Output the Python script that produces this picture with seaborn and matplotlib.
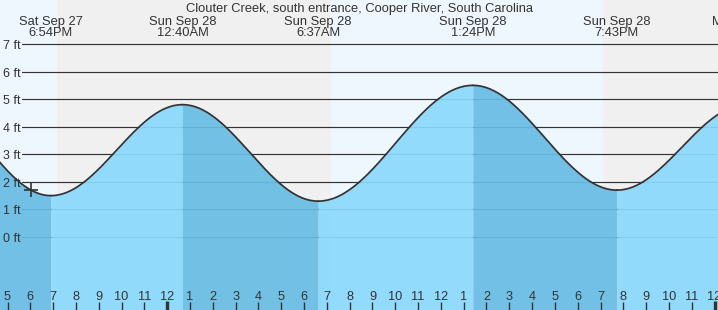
import numpy as np
import pandas as pd
import matplotlib
matplotlib.use("Agg")
import matplotlib.pyplot as plt
import seaborn as sns
from matplotlib.transforms import blended_transform_factory

# ---- data (hours relative to Sun Sep 28 00:00) ----
event_hours = [-11.3, -5.1, 0.667, 6.617, 13.4, 19.717, 25.4]
event_heights = [5.7, 1.5, 4.8, 1.3, 5.5, 1.7, 4.8]
event_days = ["", "Sat Sep 27", "Sun Sep 28", "Sun Sep 28", "Sun Sep 28", "Sun Sep 28", "Mon Sep 29"]
event_times = ["", "6:54PM", "12:40AM", "6:37AM", "1:24PM", "7:43PM", "1:24AM"]

sun_hours = [-4.83, 7.18, 19.1]          # sunset, sunrise, sunset
now_hour, now_height = -5.98, 1.71

ft_ticks = [0, 1, 2, 3, 4, 5, 6, 7]
ft_labels = ["0 ft", "1 ft", "2 ft", "3 ft", "4 ft", "5 ft", "6 ft", "7 ft"]

hour_ticks = list(range(-7, 25))
hour_labels = ["5", "6", "7", "8", "9", "10", "11", "12",
               "1", "2", "3", "4", "5", "6", "7", "8", "9", "10", "11", "12",
               "1", "2", "3", "4", "5", "6", "7", "8", "9", "10", "11", "12"]
midnights = [0, 24]

title = "Clouter Creek, south entrance, Cooper River, South Carolina"

# ---- styling ----
sns.set_theme(style="white")
plt.rcParams["font.family"] = ["Liberation Sans", "DejaVu Sans"]

XMIN, XMAX = -7.33, 24.15
YMIN, YMAX = -2.648, 8.596
DAY_BG = "#EEF6FE"
NIGHT_BG = "#F0F0F0"
LIGHT_WATER = "#8AD9FD"
DARK_WATER = "#67BCE4"
INK = "#333333"

fig = plt.figure(figsize=(7.18, 3.10), dpi=100)
ax = fig.add_axes([0, 0, 1, 1])

# day / night background
bounds = [XMIN] + sun_hours + [XMAX]
for i in range(len(bounds) - 1):
    ax.axvspan(bounds[i], bounds[i + 1], color=DAY_BG if i % 2 == 0 else NIGHT_BG,
               lw=0, zorder=0)

# horizontal grid lines
trans_ax_x = blended_transform_factory(ax.transAxes, ax.transData)
for v, lab in zip(ft_ticks, ft_labels):
    ax.plot([22 / 718, 1], [v, v], transform=trans_ax_x, color=INK, lw=0.85, zorder=1)
    ax.text(3 / 718, v - 0.18, lab, transform=trans_ax_x, ha="left", va="baseline",
            fontsize=9, color=INK, zorder=5)

# tide curve (cosine shape between successive extremes)
rows = []
for i in range(len(event_hours) - 1):
    h0, h1 = event_hours[i], event_hours[i + 1]
    v0, v1 = event_heights[i], event_heights[i + 1]
    t = np.linspace(h0, h1, 200)
    y = v0 + (v1 - v0) * (1 - np.cos(np.pi * (t - h0) / (h1 - h0))) / 2
    rows.append(pd.DataFrame({"hour": t, "height": y, "seg": i}))
    ax.fill_between(t, YMIN - 1, y, color=DARK_WATER if v1 < v0 else LIGHT_WATER,
                    alpha=0.92, lw=0, antialiased=False, zorder=2)
curve = pd.concat(rows, ignore_index=True)
sns.lineplot(data=curve, x="hour", y="height", units="seg", estimator=None,
             color=INK, lw=1.25, ax=ax, zorder=4, legend=False)
ax.set_xlim(XMIN, XMAX)
ax.set_ylim(YMIN, YMAX)
ax.axis("off")

# current time marker
ax.plot([now_hour], [now_height], marker="+", ms=10, mew=1.2, color=INK, zorder=6)

# title & event labels
trans_x_ax = blended_transform_factory(ax.transData, ax.transAxes)
fig.text(0.5, 1 - 11.7 / 310, title, ha="center", va="baseline", fontsize=9.3, color=INK)
for h, d, tm in zip(event_hours, event_days, event_times):
    if not d:
        continue
    ax.text(h, 1 - 25 / 310, d, transform=trans_x_ax, ha="center", va="baseline",
            fontsize=9.3, color=INK, zorder=6)
    ax.text(h, 1 - 36 / 310, tm, transform=trans_x_ax, ha="center", va="baseline",
            fontsize=9.3, color=INK, zorder=6)

# hour ticks and labels
for h, lab in zip(hour_ticks, hour_labels):
    if h in midnights:
        ax.plot([h, h], [0, 9.3 / 310], transform=trans_x_ax, color=INK, lw=2.4,
                solid_capstyle="butt", zorder=6)
    else:
        ax.plot([h, h], [0, 8 / 310], transform=trans_x_ax, color=INK, lw=1.0,
                solid_capstyle="butt", zorder=6)
    ax.text(h, 1 - 299.5 / 310, lab, transform=trans_x_ax, ha="center", va="baseline",
            fontsize=9.2, color=INK, zorder=6)

fig.savefig("out.png", dpi=100)
